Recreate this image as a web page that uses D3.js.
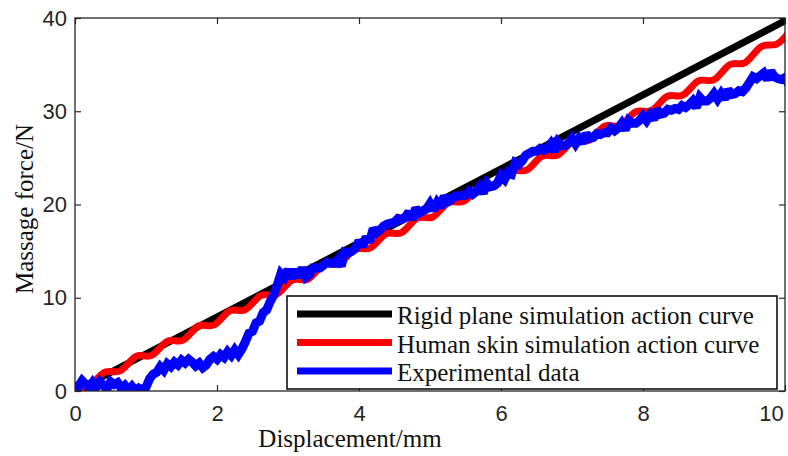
<!DOCTYPE html>
<html>
<head>
<meta charset="utf-8">
<script src="https://cdn.jsdelivr.net/npm/d3@7"></script>
<style>
  body { margin: 0; background: #fff; }
  svg { display: block; }
  .tick text { font-family: 'Liberation Sans', Arial, sans-serif; font-size: 22px; fill: #262626; }
  .lbl { font-family: 'Liberation Serif', 'Times New Roman', serif; font-size: 25px; fill: #111; }
</style>
</head>
<body>
<svg id="chart" width="788" height="456"></svg>
<script>
// chart data
var xTicks = [0, 2, 4, 6, 8, 10]
var yTicks = [0, 10, 20, 30, 40]
var seriesNames = ['Rigid plane simulation action curve', 'Human skin simulation action curve', 'Experimental data']
var seriesColors = ['#000000', '#ff0000', '#0000ff']

// rigid plane: straight line
var rigidX = [0, 10.1]
var rigidY = [0, 40.1]

// human skin: wavy curve (peaks and troughs)
var skinX = [0, 0.20, 0.42, 0.64, 0.86, 1.08, 1.30, 1.52, 1.74, 1.96, 2.18, 2.40, 2.62, 2.84, 3.06, 3.28,
    3.50, 3.72, 3.94, 4.16, 4.38, 4.60, 4.82, 5.04, 5.26, 5.48, 5.70, 5.92, 6.14, 6.36, 6.58, 6.80,
    7.02, 7.24, 7.46, 7.68, 7.90, 8.12, 8.34, 8.56, 8.78, 9.00, 9.22, 9.44, 9.66, 9.88, 10.10]
var skinY = [0, 0.44, 2.02, 2.17, 3.71, 3.82, 5.33, 5.45, 6.97, 7.09, 8.60, 8.73, 10.25, 10.36, 11.89, 12.01,
    13.55, 13.68, 15.20, 15.34, 16.86, 16.99, 18.53, 18.66, 20.20, 20.36, 21.91, 22.06, 23.59, 23.69, 25.20, 25.31,
    26.81, 26.89, 28.39, 28.47, 29.95, 30.07, 31.59, 31.72, 33.25, 33.38, 34.99, 35.22, 36.90, 37.19, 38.90]

// experimental data, sampled every 0.05 mm
var expStep = 0.05
var expY = [
    0.9, 0.5, 1.1, 0.7, 0.3, 0.9, 0.4, 1.0, 0.6, 0.2,
    1.0, 0.7, 0.9, 0.3, 0.6, 0.1, 0.5, 0.0, 0.3, 0.1,
    0.4, 1.3, 1.8, 2.0, 2.6, 2.2, 2.9, 2.6, 3.1, 2.8,
    3.3, 3.0, 3.4, 3.1, 2.7, 3.0, 2.5, 2.8, 3.4, 3.7,
    3.4, 3.9, 3.6, 4.2, 3.8, 4.4, 3.9, 4.5, 5.3, 6.2,
    6.4, 7.3, 7.5, 8.4, 8.7, 9.6, 10.3, 11.4, 12.6, 12.2,
    13.0, 12.1, 13.0, 12.2, 13.2, 12.2, 12.5, 13.2, 13.2, 13.2,
    13.5, 13.8, 13.7, 13.7, 14.1, 13.4, 14.9, 14.8, 15.0, 15.3,
    16.1, 15.5, 16.5, 16.0, 17.4, 17.0, 17.3, 17.7, 17.9, 18.0,
    18.1, 18.5, 18.4, 18.6, 19.2, 18.4, 19.6, 19.1, 19.3, 19.5,
    20.1, 19.4, 20.2, 19.7, 20.9, 20.3, 20.5, 20.9, 20.9, 21.0,
    21.0, 21.4, 21.1, 21.4, 21.9, 21.2, 22.3, 21.9, 22.0, 22.3,
    23.1, 22.7, 23.5, 23.3, 24.5, 24.3, 24.7, 25.3, 25.5, 25.7,
    25.7, 26.0, 25.8, 26.0, 26.5, 25.7, 26.7, 26.3, 26.3, 26.6,
    27.1, 26.5, 27.1, 26.6, 27.6, 27.1, 27.2, 27.6, 27.5, 27.7,
    27.7, 28.2, 27.9, 28.2, 28.7, 28.0, 29.0, 28.7, 28.7, 29.0,
    29.5, 29.0, 29.6, 29.1, 30.2, 29.7, 29.8, 30.2, 30.1, 30.3,
    30.2, 30.6, 30.4, 30.7, 31.1, 30.4, 31.5, 31.1, 31.1, 31.4,
    31.9, 31.3, 31.9, 31.3, 32.3, 31.8, 31.9, 32.2, 32.1, 32.5,
    33.1, 33.7, 33.5, 33.8, 34.1, 33.4, 34.3, 33.7, 33.5, 33.4,
    33.6, 32.9, 33.3]

var margin = { top: 18, right: 3, bottom: 65, left: 75 }
var width = 788 - margin.left - margin.right
var height = 456 - margin.top - margin.bottom

var svg = d3.select('#chart')
var g = svg.append('g').attr('transform', 'translate(' + margin.left + ',' + margin.top + ')')

var x = d3.scaleLinear().domain([0, 10]).range([0, width])
var y = d3.scaleLinear().domain([0, 40]).range([height, 0])

svg.append('defs').append('clipPath').attr('id', 'clip')
    .append('rect').attr('width', width).attr('height', height)

// axes, ticks pointing inward on all sides
function styleAxis(sel) {
    sel.select('.domain').remove()
    sel.selectAll('.tick line').attr('stroke', '#262626').attr('stroke-width', 1.2)
}
var xAxis = g.append('g').attr('transform', 'translate(0,' + height + ')')
    .call(d3.axisBottom(x).tickValues(xTicks).tickSize(-6).tickPadding(14).tickFormat(d3.format('d')))
    .call(styleAxis)
// last label sits a little inside, as in the original
xAxis.selectAll('.tick text').filter(function(d) { return d === 10 }).attr('dx', -14)
g.append('g')
    .call(d3.axisTop(x).tickValues(xTicks).tickSize(-6).tickFormat(''))
    .call(styleAxis)
g.append('g')
    .call(d3.axisLeft(y).tickValues(yTicks).tickSize(-6).tickPadding(8).tickFormat(d3.format('d')))
    .call(styleAxis)
g.append('g').attr('transform', 'translate(' + width + ',0)')
    .call(d3.axisRight(y).tickValues(yTicks).tickSize(-6).tickFormat(''))
    .call(styleAxis)

var lines = g.append('g').attr('clip-path', 'url(#clip)')

var rigid = rigidX.map(function(d, i) { return [d, rigidY[i]] })
var skin = skinX.map(function(d, i) { return [d, skinY[i]] })
var exp = expY.map(function(d, i) { return [i * expStep, d] })

var straight = d3.line().x(function(d) { return x(d[0]) }).y(function(d) { return y(d[1]) })
var smooth = d3.line().curve(d3.curveNatural).x(function(d) { return x(d[0]) }).y(function(d) { return y(d[1]) })

lines.append('path').datum(rigid).attr('d', straight)
    .attr('fill', 'none').attr('stroke', seriesColors[0]).attr('stroke-width', 7)
lines.append('path').datum(skin).attr('d', smooth)
    .attr('fill', 'none').attr('stroke', seriesColors[1]).attr('stroke-width', 7)
lines.append('path').datum(exp).attr('d', straight)
    .attr('fill', 'none').attr('stroke', seriesColors[2]).attr('stroke-width', 9)
    .attr('stroke-linejoin', 'miter').attr('stroke-miterlimit', 2)

// plot box
g.append('rect').attr('width', width).attr('height', height)
    .attr('fill', 'none').attr('stroke', '#262626').attr('stroke-width', 1.3)

// legend
var lg = g.append('g').attr('transform', 'translate(' + (287 - margin.left) + ',' + (296 - margin.top) + ')')
lg.append('rect').attr('width', 490).attr('height', 93)
    .attr('fill', '#fff').attr('stroke', '#000').attr('stroke-width', 1.5)
seriesNames.forEach(function(name, i) {
    var ry = 18 + i * 28.5
    lg.append('line').attr('x1', 10).attr('x2', 105).attr('y1', ry).attr('y2', ry)
        .attr('stroke', seriesColors[i]).attr('stroke-width', 7)
    lg.append('text').attr('class', 'lbl').attr('x', 110).attr('y', ry + 10).text(name)
})

// axis titles
svg.append('text').attr('class', 'lbl').attr('text-anchor', 'middle')
    .attr('x', 350).attr('y', 447).text('Displacement/mm')
svg.append('text').attr('class', 'lbl').attr('text-anchor', 'middle')
    .attr('transform', 'translate(33,209) rotate(-90)').text('Massage force/N')
</script>
</body>
</html>
